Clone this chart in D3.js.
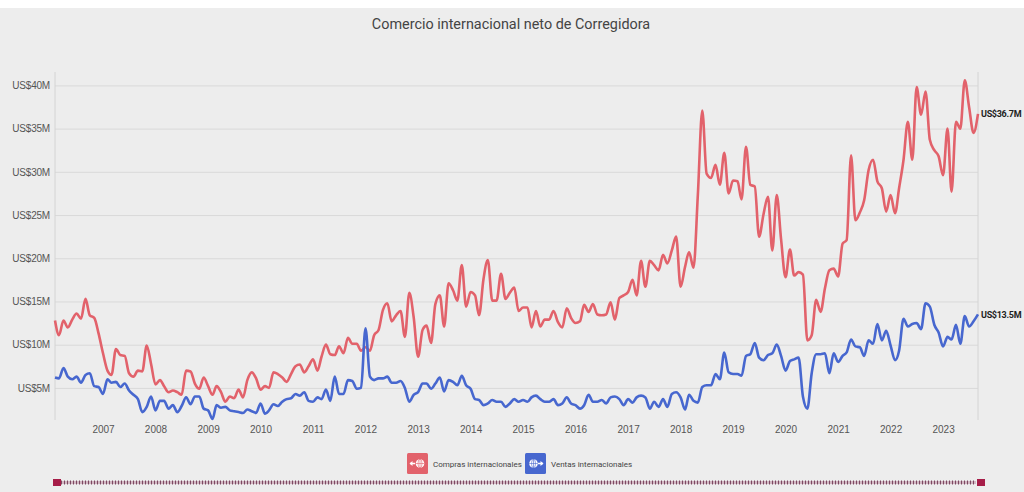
<!DOCTYPE html>
<html lang="es">
<head>
<meta charset="utf-8">
<title>Comercio internacional neto de Corregidora</title>
<script src="https://d3js.org/d3.v7.min.js"></script>
<style>
  body { margin: 0; background: #fff; }
  svg { display: block; font-family: Roboto, "Open Sans", sans-serif; }
  .grid line { stroke: #d9d9d9; stroke-width: 1px; }
  .grid .domain { display: none; }
  .axis text { fill: #555; font-size: 10px; }
  .axis .domain { display: none; }
  .line { fill: none; stroke-width: 2.6px; stroke-linejoin: round; }
</style>
</head>
<body>
<script>
  // monthly series, starting Feb 2006 (values in millions of US$)
  var startYear = 2006, startMonth = 1;

  var compras = [
    12.8, 11.1, 12.8, 12.0, 12.9, 13.6, 13.0, 15.3, 13.4, 13.1, 11.3,
    9.0, 7.0, 6.5, 9.5, 8.8, 8.7, 6.7, 6.3, 7.0, 6.9, 9.9, 7.8,
    5.4, 5.9, 5.2, 4.5, 4.7, 4.5, 4.2, 7.0, 6.9, 5.5, 4.9, 6.2,
    5.2, 4.2, 5.2, 4.5, 3.4, 4.0, 3.8, 4.8, 3.9, 5.9, 6.8, 6.1,
    4.8, 5.2, 5.0, 6.8, 6.6, 6.2, 5.7, 6.6, 7.5, 7.7, 6.8, 7.5,
    8.3, 7.0, 8.6, 10.0, 8.9, 8.8, 9.8, 9.0, 10.8, 10.1, 10.1, 9.3,
    9.7, 9.3, 11.1, 11.7, 14.0, 14.8, 12.7, 13.4, 13.9, 10.9, 16.0, 13.2,
    8.6, 11.7, 12.2, 10.2, 14.7, 15.7, 12.1, 17.1, 16.3, 15.1, 19.2, 14.4,
    16.1, 15.7, 13.4, 17.6, 19.8, 15.1, 15.1, 18.2, 15.3, 16.0, 16.6, 13.9,
    14.3, 14.3, 12.0, 13.9, 12.1, 12.9, 12.9, 13.9, 12.6, 12.0, 14.2, 13.1,
    12.5, 12.7, 14.6, 13.8, 14.7, 13.5, 13.4, 13.5, 14.9, 12.9, 15.4, 15.7,
    16.1, 17.5, 15.7, 19.7, 16.7, 19.7, 19.2, 18.6, 20.4, 19.4, 20.9, 22.5,
    16.7, 19.0, 20.7, 18.9, 27.3, 37.1, 29.8, 29.3, 30.8, 28.5, 32.2, 27.5,
    29.0, 28.9, 26.8, 32.9, 28.5, 28.3, 22.5, 25.1, 27.1, 20.9, 27.3, 22.2,
    17.8, 21.0, 18.0, 18.4, 18.1, 10.5, 11.1, 15.2, 13.8, 16.5, 18.6, 18.8,
    17.9, 21.7, 22.1, 31.9, 24.4, 25.3, 26.7, 30.2, 31.4, 28.9, 28.1, 25.4,
    27.3, 25.2, 28.1, 31.4, 35.8, 31.4, 39.8, 36.6, 39.3, 33.7, 32.5, 31.8,
    29.6, 35.0, 27.7, 35.8, 35.0, 40.6, 37.5, 34.5, 36.7
  ];

  var ventas = [
    6.2, 6.1, 7.3, 6.3, 6.0, 6.3, 5.6, 6.5, 6.7, 5.2, 5.1,
    4.3, 6.0, 5.6, 5.7, 5.1, 5.5, 4.7, 4.2, 3.7, 2.2, 2.8, 4.0,
    2.4, 3.5, 3.5, 2.6, 3.0, 2.2, 2.9, 3.9, 3.1, 4.0, 4.0, 2.6,
    2.4, 1.4, 3.0, 2.7, 2.8, 2.4, 2.3, 2.2, 2.1, 2.5, 2.3, 2.1,
    3.2, 2.0, 2.4, 3.1, 2.9, 3.4, 3.7, 3.8, 4.3, 4.1, 4.5, 3.5,
    3.4, 3.9, 3.7, 4.8, 3.5, 6.3, 4.3, 4.3, 5.9, 5.8, 4.9, 5.0,
    11.9, 6.3, 5.9, 6.1, 6.1, 6.3, 5.6, 5.6, 5.8, 5.0, 3.4, 4.2,
    4.5, 5.5, 5.5, 4.9, 5.5, 6.2, 4.6, 5.9, 5.7, 5.3, 6.4, 5.3,
    4.9, 3.7, 3.6, 3.0, 3.2, 3.6, 3.4, 3.4, 2.8, 3.2, 3.7, 3.4,
    3.6, 3.4, 3.9, 4.1, 3.7, 3.4, 3.4, 3.7, 3.0, 3.2, 3.9, 3.2,
    3.0, 2.6, 3.0, 4.2, 3.4, 3.4, 3.6, 3.2, 3.9, 4.0, 3.7, 3.0,
    3.7, 3.3, 3.9, 4.1, 3.9, 2.6, 3.4, 2.8, 3.7, 2.8, 4.3, 4.5,
    3.9, 2.5, 4.2, 3.5, 3.3, 5.1, 5.3, 5.3, 6.6, 6.0, 9.1, 6.8,
    6.6, 6.6, 6.4, 8.7, 8.9, 10.2, 8.5, 8.2, 8.8, 9.0, 10.0, 8.7,
    7.0, 8.1, 8.3, 8.5, 4.0, 2.6, 6.7, 8.9, 8.9, 9.0, 6.7, 9.0,
    8.0, 8.7, 9.1, 10.6, 9.8, 9.7, 8.7, 10.5, 10.1, 12.4, 10.5, 11.6,
    9.9, 8.2, 9.3, 13.0, 12.1, 12.4, 12.5, 11.8, 14.8, 14.4, 12.3, 11.4,
    9.8, 10.9, 10.6, 12.3, 10.1, 13.3, 12.1, 12.7, 13.5
  ];

  var years = [2007, 2008, 2009, 2010, 2011, 2012, 2013, 2014, 2015,
               2016, 2017, 2018, 2019, 2020, 2021, 2022, 2023];
  var yTicks = [5, 10, 15, 20, 25, 30, 35, 40];
  var seriesNames = ["Compras internacionales", "Ventas internacionales"];
  var colors = ["#e2626b", "#4767cf"];

  var w = 1024, h = 492;
  var plotLeft = 55, plotRight = 978, plotTop = 72, plotBottom = 419;

  var svg = d3.select("body").append("svg")
      .attr("width", w)
      .attr("height", h);

  // grey panel
  svg.append("rect")
      .attr("x", 0).attr("y", 8)
      .attr("width", w).attr("height", h - 8)
      .attr("fill", "#ededed");

  svg.append("text")
      .attr("x", w / 2 - 1)
      .attr("y", 29)
      .attr("text-anchor", "middle")
      .attr("fill", "#444")
      .style("font-size", "14.4px")
      .text("Comercio internacional neto de Corregidora");

  var dates = compras.map(function(d, i) { return new Date(startYear, startMonth + i, 1); });

  var x = d3.scaleTime()
      .domain([dates[0], dates[dates.length - 1]])
      .range([plotLeft, plotRight]);

  var y = d3.scaleLinear()
      .domain([1.4, 41.55])
      .range([plotBottom, plotTop]);

  // horizontal grid + y labels
  svg.append("g")
      .attr("class", "grid axis")
      .attr("transform", "translate(" + plotLeft + ",0)")
      .call(d3.axisLeft(y)
        .tickValues(yTicks)
        .tickSize(-(plotRight - plotLeft))
        .tickPadding(5)
        .tickFormat(function(d) { return "US$" + d + "M"; }))
      .selectAll("text").style("letter-spacing", "-0.2px");

  // vertical frame lines
  svg.append("line")
      .attr("x1", plotLeft).attr("x2", plotLeft)
      .attr("y1", plotTop).attr("y2", plotBottom + 1)
      .attr("stroke", "#d4d4d4");
  svg.append("line")
      .attr("x1", plotRight).attr("x2", plotRight)
      .attr("y1", plotTop).attr("y2", plotBottom + 1)
      .attr("stroke", "#d4d4d4");

  svg.append("g")
      .attr("class", "axis")
      .attr("transform", "translate(0," + plotBottom + ")")
      .call(d3.axisBottom(x)
        .tickValues(years.map(function(yr) { return new Date(yr, 0, 1); }))
        .tickSize(0)
        .tickPadding(7)
        .tickFormat(d3.timeFormat("%Y")));

  var line = d3.line()
      .x(function(d, i) { return x(dates[i]); })
      .y(function(d) { return y(d); })
      .curve(d3.curveMonotoneX);

  [compras, ventas].forEach(function(s, k) {
    svg.append("path")
        .datum(s)
        .attr("class", "line")
        .attr("stroke", colors[k])
        .attr("d", line);

    var last = s[s.length - 1];
    svg.append("text")
        .attr("x", plotRight + 3)
        .attr("y", y(last) + 3.5)
        .attr("fill", "#222")
        .style("font-size", "9px")
        .style("font-weight", "bold")
        .style("letter-spacing", "-0.3px")
        .text("US$" + last + "M");
  });

  // legend
  var legendX = [407, 525];
  seriesNames.forEach(function(name, k) {
    var g = svg.append("g")
        .attr("transform", "translate(" + legendX[k] + ",453)");
    g.append("rect")
        .attr("width", 21).attr("height", 21)
        .attr("rx", 1.5)
        .attr("fill", colors[k]);
    var cx = k === 0 ? 13 : 8.5;
    var icon = g.append("g").attr("stroke", "#fff").attr("fill", "none").attr("stroke-width", 1);
    icon.append("circle").attr("cx", cx).attr("cy", 10.5).attr("r", 4.3).attr("fill", "#fff").attr("stroke", "none");
    icon.append("line").attr("x1", cx - 4.3).attr("x2", cx + 4.3).attr("y1", 10.5).attr("y2", 10.5).attr("stroke", colors[k]).attr("stroke-width", 0.6);
    icon.append("line").attr("x1", cx).attr("x2", cx).attr("y1", 6.2).attr("y2", 14.8).attr("stroke", colors[k]).attr("stroke-width", 0.6);
    icon.append("ellipse").attr("cx", cx).attr("cy", 10.5).attr("rx", 2).attr("ry", 4.3).attr("stroke", colors[k]).attr("stroke-width", 0.6);
    if (k === 0) {
      icon.append("line").attr("x1", 3).attr("x2", 8).attr("y1", 10.5).attr("y2", 10.5).attr("stroke-width", 1.5);
      icon.append("path").attr("d", "M2.5,10.5 L5.5,8 L5.5,13 Z").attr("fill", "#fff").attr("stroke", "none");
    } else {
      icon.append("line").attr("x1", 13).attr("x2", 18).attr("y1", 10.5).attr("y2", 10.5).attr("stroke-width", 1.5);
      icon.append("path").attr("d", "M18.5,10.5 L15.5,8 L15.5,13 Z").attr("fill", "#fff").attr("stroke", "none");
    }
    g.append("text")
        .attr("x", 26)
        .attr("y", 13.5)
        .attr("fill", "#444")
        .style("font-size", "8px")
        .text(name);
  });

  // navigator strip
  svg.append("line")
      .attr("x1", 61).attr("x2", 976)
      .attr("y1", 482.5).attr("y2", 482.5)
      .attr("stroke", "#d3b9c4")
      .attr("stroke-width", 3);
  svg.append("line")
      .attr("x1", 61).attr("x2", 976)
      .attr("y1", 482.5).attr("y2", 482.5)
      .attr("stroke", "#7d4a62")
      .attr("stroke-width", 4)
      .attr("stroke-dasharray", "1,2");
  [53, 977].forEach(function(hx) {
    svg.append("rect")
        .attr("x", hx).attr("y", 479)
        .attr("width", 8).attr("height", 7)
        .attr("fill", "#a61d48");
  });
</script>
</body>
</html>
